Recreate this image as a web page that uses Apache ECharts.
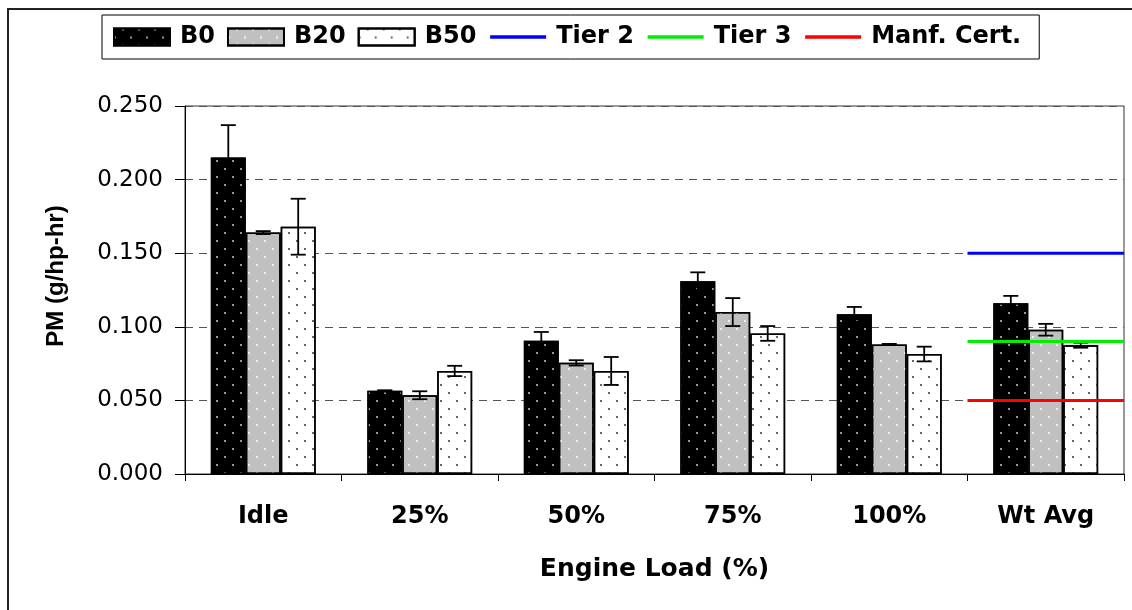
<!DOCTYPE html>
<html>
<head>
<meta charset="utf-8">
<script src="https://cdn.jsdelivr.net/npm/echarts@6/dist/echarts.min.js"></script>
<style>
html,body{margin:0;padding:0;background:#fff;}
#chart{width:1132px;height:610px;}
</style>
</head>
<body>
<div id="chart"></div>
<script>
// ---- data ----
const categories = ['Idle', '25%', '50%', '75%', '100%', 'Wt Avg'];
const seriesNames = ['B0', 'B20', 'B50'];
const b0Values  = [0.215, 0.0565, 0.0905, 0.131, 0.1085, 0.116];
const b20Values = [0.164, 0.0535, 0.0755, 0.110, 0.088, 0.098];
const b50Values = [0.168, 0.070, 0.070, 0.0955, 0.0815, 0.0875];
const b0Errors  = [0.022, 0.0004, 0.006, 0.006, 0.005, 0.005];
const b20Errors = [0.001, 0.0027, 0.0018, 0.0095, 0.0004, 0.004];
const b50Errors = [0.019, 0.0035, 0.0095, 0.005, 0.005, 0.0017];
const limitNames = ['Tier 2', 'Tier 3', 'Manf. Cert.'];
const limitValues = [0.150, 0.090, 0.050];
const limitCategory = 'Wt Avg';
const yTicks = [0.000, 0.050, 0.100, 0.150, 0.200, 0.250];

// ---- styling ----
const barFill = ['#000000', '#c0c0c0', '#ffffff'];
const dotFill = ['#c8c8c8', '#ffffff', '#333333'];
const limitColors = ['#0000ff', '#00ee00', '#ff0000'];
const GAP = 0.33;

const values = [b0Values, b20Values, b50Values];
const errors = [b0Errors, b20Errors, b50Errors];

const chart = echarts.init(document.getElementById('chart'), null, {renderer: 'canvas'});

const series = [];
seriesNames.forEach((name, k) => {
  series.push({
    name: name,
    type: 'bar',
    xAxisIndex: 0, yAxisIndex: 0,
    data: values[k],
    barGap: '0%',
    barCategoryGap: (GAP * 100) + '%',
    itemStyle: {
      color: barFill[k],
      borderColor: '#000',
      borderWidth: 1.5,
      decal: {
        symbol: 'circle',
        symbolSize: 1,
        color: dotFill[k],
        dashArrayX: [[2, 14], [0, 8, 2, 6]],
        dashArrayY: [2, 6]
      }
    },
    emphasis: {disabled: true},
    z: 2
  });
});
seriesNames.forEach((name, k) => {
  series.push({
    name: name + ' error',
    type: 'custom',
    xAxisIndex: 0, yAxisIndex: 0,
    data: values[k].map((v, i) => [i, v, errors[k][i]]),
    encode: {x: 0, y: 1},
    z: 3,
    silent: true,
    renderItem: function (params, api) {
      const idx = api.value(0), val = api.value(1), err = api.value(2);
      const band = api.size([1, 0])[0];
      const barW = band * (1 - GAP) / 3;
      const cx = api.coord([idx, val])[0] + (k - 1) * barW;
      const yt = api.coord([idx, val + err])[1];
      const yb = api.coord([idx, val - err])[1];
      const cap = 7.5;
      const st = {stroke: '#000', lineWidth: 1.8};
      return {
        type: 'group',
        children: [
          {type: 'line', shape: {x1: cx, y1: yt, x2: cx, y2: yb}, style: st},
          {type: 'line', shape: {x1: cx - cap, y1: yt, x2: cx + cap, y2: yt}, style: st},
          {type: 'line', shape: {x1: cx - cap, y1: yb, x2: cx + cap, y2: yb}, style: st}
        ]
      };
    }
  });
});
const limStart = categories.indexOf(limitCategory);
limitNames.forEach((name, k) => {
  series.push({
    name: name,
    type: 'line',
    xAxisIndex: 1, yAxisIndex: 0,
    data: [[limStart, limitValues[k]], [limStart + 1, limitValues[k]]],
    symbol: 'none',
    lineStyle: {color: limitColors[k], width: 3},
    itemStyle: {color: limitColors[k]},
    emphasis: {disabled: true},
    silent: true,
    z: 5
  });
});

const hiddenSymbol = {color: 'rgba(0,0,0,0)', borderColor: 'rgba(0,0,0,0)', borderWidth: 0};
const option = {
  animation: false,
  backgroundColor: '#ffffff',
  legend: {
    left: 102, top: 15,
    padding: [10, 18, 10, 11],
    borderColor: '#000', borderWidth: 1,
    itemWidth: 56, itemHeight: 17, itemGap: 12,
    selectedMode: false,
    data: [
      {name: 'B0', icon: 'rect'},
      {name: 'B20', icon: 'rect'},
      {name: 'B50', icon: 'rect'},
      {name: 'Tier 2', itemStyle: hiddenSymbol, lineStyle: {width: 3.5}},
      {name: 'Tier 3', itemStyle: hiddenSymbol, lineStyle: {width: 3.5}},
      {name: 'Manf. Cert.', itemStyle: hiddenSymbol, lineStyle: {width: 3.5}}
    ],
    textStyle: {
      fontFamily: 'DejaVu Sans', fontWeight: 'bold', fontSize: 24, color: '#000',
      padding: [0, 0, 0, 5]
    }
  },
  grid: {left: 185, right: 8, top: 106, bottom: 136, show: true, borderColor: '#333', borderWidth: 1, containLabel: false},
  xAxis: [
    {
      type: 'category',
      data: categories,
      name: 'Engine Load (%)',
      nameLocation: 'middle',
      nameGap: 83,
      nameTextStyle: {fontFamily: 'DejaVu Sans', fontWeight: 'bold', fontSize: 25, color: '#000'},
      axisLine: {lineStyle: {color: '#000', width: 1}},
      axisTick: {show: true, alignWithLabel: false, length: 7, lineStyle: {color: '#000'}},
      axisLabel: {fontFamily: 'DejaVu Sans', fontWeight: 'bold', fontSize: 24, color: '#000', margin: 31}
    },
    {
      type: 'value', min: 0, max: categories.length, show: false
    }
  ],
  yAxis: {
    type: 'value',
    min: yTicks[0], max: yTicks[yTicks.length - 1], interval: 0.05,
    name: 'PM (g/hp-hr)',
    nameLocation: 'middle',
    nameGap: 117,
    nameTextStyle: {fontFamily: 'Liberation Sans', fontWeight: 'bold', fontSize: 24, color: '#000', padding: [0, 0, 0, 28]},
    axisLine: {show: true, lineStyle: {color: '#000', width: 1}},
    axisTick: {show: true, length: 10, lineStyle: {color: '#000'}},
    axisLabel: {
      fontFamily: 'DejaVu Sans', fontSize: 23, color: '#000', margin: 22,
      formatter: v => v.toFixed(3)
    },
    splitLine: {show: true, lineStyle: {color: '#555', type: [8, 6], width: 1}}
  },
  graphic: [
    {type: 'rect', shape: {x: 8, y: 9, width: 1300, height: 800}, style: {fill: null, stroke: '#222', lineWidth: 2}, silent: true, z: -10}
  ],
  series: series
};
chart.setOption(option);
</script>
</body>
</html>
